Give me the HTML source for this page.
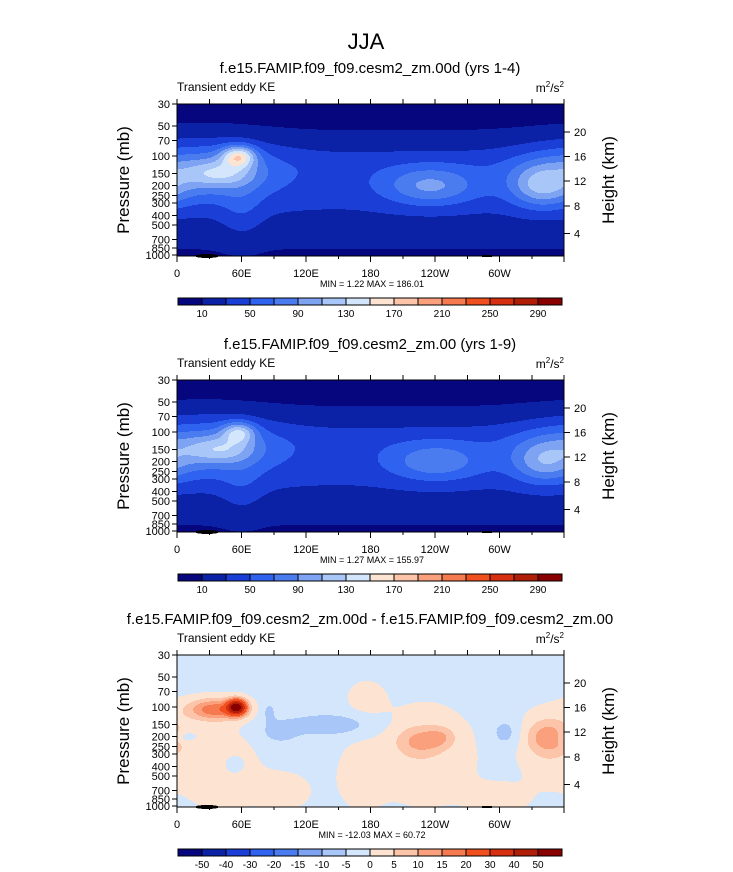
<!DOCTYPE html>
<html><head><meta charset="utf-8">
<style>
body{margin:0;background:#fff;width:733px;height:872px;overflow:hidden;position:relative;font-family:"Liberation Sans",sans-serif;}
svg{position:absolute;left:0;top:0}
</style></head>
<body>
<svg id="s" width="733" height="872" shape-rendering="crispEdges"></svg>
<script>
var pressureTicks=[30,50,70,100,150,200,250,300,400,500,700,850,1000];
var heightTicks=[4,8,12,16,20];
var lonTicks=[0,60,120,180,240,300];
var lonLabels=["0","60E","120E","180","120W","60W"];
var levelsKE=[10,30,50,70,90,110,130,150,170,190,210,230,250,270,290];
var labelsKE=["10","50","90","130","170","210","250","290"];
var levelsDiff=[-50,-40,-30,-20,-15,-10,-5,0,5,10,15,20,30,40,50];
var colors=["#06067e","#0c22a6","#1a3ed6","#2f62ee","#4a7cf0","#7ea3f3","#a8c6f7","#d3e6fc","#fde4d2","#fcc4a8","#fba07c","#f57a50","#f0501e","#d63010","#b01e08","#8a0000"];
// blobs: [lon, pressure(mb), amplitude, sigmaLon(deg), sigmaT]
var blobs1=[[57,100,100,11,0.05],[40,150,45,22,0.06],[25,140,50,45,0.14],[60,350,18,14,0.15],[235,200,55,30,0.09],[338,200,62,20,0.1]];
var blobs2=[[57,100,72,11,0.05],[40,150,44,22,0.06],[25,140,45,45,0.14],[60,350,15,14,0.15],[240,200,47,30,0.09],[340,200,50,20,0.1]];
var blobs3=[[55,100,55,6,0.035],[35,105,20,18,0.05],[40,420,4,25,0.2],[175,80,3.5,12,0.08],[230,300,4,35,0.25],[345,250,4,20,0.18],[170,500,3.5,15,0.15],[225,220,10,15,0.07],[245,200,7,10,0.05],[345,200,12,14,0.08],[300,850,3,20,0.08],[100,700,3,20,0.1],[140,150,-8,28,0.05],[95,180,-6,12,0.05],[5,200,-6,8,0.03],[52,380,-5,6,0.04],[305,180,-6,10,0.07],[85,110,-5,5,0.05]];
function lg(v){return Math.log(v)/Math.LN10;}
var L0=lg(30),LR=lg(1000)-L0,H=152,W=387;
function tOf(p){return (lg(p)-L0)/LR;}
function field(b,base,lon,t){var v=base(t);for(var i=0;i<b.length;i++){var q=b[i];var d=Math.abs(lon-q[0]);d=Math.min(d,360-d);var dt=t-tOf(q[1]);v+=q[2]*Math.exp(-(d*d)/(2*q[3]*q[3])-(dt*dt)/(2*q[4]*q[4]));}return v;}
function baseKE(t){var w=t<0.45?0.22:0.4;var u=(t-0.45)/w;return 40*Math.exp(-u*u)+2;}
function baseDiff(t){return -1.5;}
function bin(v,lev){var i=0;while(i<lev.length&&v>=lev[i])i++;return i;}
var s=document.getElementById('s');var NS="http://www.w3.org/2000/svg";
function el(tag,a,txt,parent){var e=document.createElementNS(NS,tag);for(var k in a)e.setAttribute(k,a[k]);if(txt!==undefined)e.textContent=txt;(parent||s).appendChild(e);return e;}
function draw(X0,Y0,b,base,lev,idx){
 var g=el('g',{});
 
 
 for(var y=0;y<H;y++){var t=y/(H-1);var start=0,cur=-1;
  for(var x=0;x<=W;x++){var c=x<W?bin(field(b,base,x/W*360,t),lev):-2;
   if(c!==cur){if(cur>=0){el('rect',{x:X0+start,y:Y0+y,width:x-start,height:1,fill:colors[cur]},undefined,g);}cur=c;start=x;}}}
 el('ellipse',{cx:X0+30,cy:Y0+H,rx:12,ry:2,fill:'#000'},undefined,g);
 el('ellipse',{cx:X0+310,cy:Y0+H,rx:8,ry:1,fill:'#000'},undefined,g);
}
var e=el('text',{x:366,y:49,'font-size':22,'text-anchor':'middle'},'JJA');


var panels=[{y:104,title:"f.e15.FAMIP.f09_f09.cesm2_zm.00d (yrs 1-4)",mm:"MIN =   1.22  MAX = 186.01",cb:298,lev:levelsKE,labs:labelsKE,step:2,b:blobs1,base:baseKE},
{y:380,title:"f.e15.FAMIP.f09_f09.cesm2_zm.00 (yrs 1-9)",mm:"MIN =   1.27  MAX = 155.97",cb:574,lev:levelsKE,labs:labelsKE,step:2,b:blobs2,base:baseKE},
{y:655,title:"f.e15.FAMIP.f09_f09.cesm2_zm.00d - f.e15.FAMIP.f09_f09.cesm2_zm.00",mm:"MIN = -12.03  MAX =  60.72",cb:849,lev:levelsDiff,labs:levelsDiff,step:1,b:blobs3,base:baseDiff}];
for(var i=0;i<panels.length;i++){
 var P=panels[i];var X0=177,Y0=P.y,j,y,x,k;
 draw(X0,Y0,P.b,P.base,P.lev,i+1);
 e=el('text',{x:370,y:Y0-31,'font-size':15,'text-anchor':'middle'},P.title);
 
 
 e=el('text',{x:177,y:Y0-13,'font-size':12},'Transient eddy KE');
 
 
 e=el('text',{x:564,y:Y0-12,'font-size':12,'text-anchor':'end'});
 el('tspan',{},'m',e);el('tspan',{'font-size':8,dy:-5},'2',e);el('tspan',{dy:5},'/s',e);el('tspan',{'font-size':8,dy:-5},'2',e);
 
 
 e=el('rect',{x:X0,y:Y0,width:W,height:H,fill:'none',stroke:'#000','stroke-width':1});
 
 
 for(j=0;j<pressureTicks.length;j++){var p=pressureTicks[j];y=Y0+tOf(p)*(H-1);el('line',{x1:X0-5,x2:X0,y1:y,y2:y,stroke:'#000'});
  e=el('text',{x:X0-7,y:y+4,'font-size':11,'text-anchor':'end'},String(p));
  
  }
 for(j=0;j<heightTicks.length;j++){var z=heightTicks[j];y=Y0+tOf(1000*Math.exp(-z/7))*(H-1)+(z<8?3:0);el('line',{x1:X0+W,x2:X0+W+6,y1:y,y2:y,stroke:'#000'});
  e=el('text',{x:X0+W+10,y:y+4,'font-size':11},String(z));
  
  }
 for(var l=0;l<=360;l+=30){x=X0+l/360*W;el('line',{x1:x,x2:x,y1:Y0-5,y2:Y0,stroke:'#000'});el('line',{x1:x,x2:x,y1:Y0+H,y2:Y0+H+(l%60?3:6),stroke:'#000'});}
 for(j=0;j<lonTicks.length;j++){e=el('text',{x:X0+lonTicks[j]/360*W,y:Y0+H+21,'font-size':11,'text-anchor':'middle'},lonLabels[j]);
  
  }
 e=el('text',{x:372,y:Y0+H+31,'font-size':9,'text-anchor':'middle'},P.mm);
 
 
 e=el('text',{x:0,y:0,'font-size':17,'text-anchor':'middle',transform:'translate(129,'+(Y0+76)+') rotate(-90)'},'Pressure (mb)');
 
 
 e=el('text',{x:0,y:0,'font-size':17,'text-anchor':'middle',transform:'translate(614,'+(Y0+76)+') rotate(-90)'},'Height (km)');
 
 
 var cw=384/16;
 for(k=0;k<colors.length;k++){e=el('rect',{x:178+k*cw,y:P.cb,width:cw,height:7,fill:colors[k],stroke:'#000','stroke-width':0.6});
  
  }
 for(k=0;k<P.lev.length;k++){if(k%P.step)continue;e=el('text',{x:178+(k+1)*cw,y:P.cb+19,'font-size':10,'text-anchor':'middle'},String(P.step==2?P.labs[k/2]:P.labs[k]));
  
  }
}
</script>
</body></html>
